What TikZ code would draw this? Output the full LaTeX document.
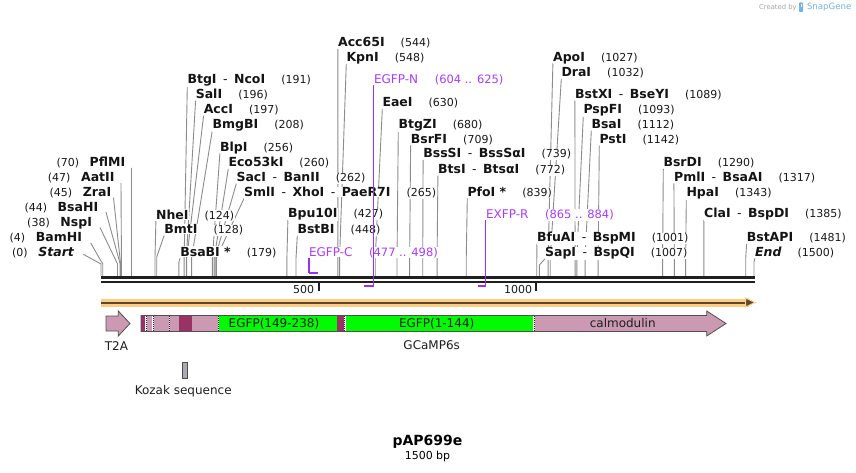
\documentclass[tikz,border=0pt]{standalone}
\usepackage{fontspec}
\setmainfont{DejaVu Sans}
\usetikzlibrary{calc}
\pgfdeclarelayer{bg}
\pgfsetlayers{bg,main}
\definecolor{cutgray}{RGB}{140,140,140}
\definecolor{primerc}{RGB}{155,48,240}
\definecolor{primertext}{RGB}{165,62,245}
\definecolor{featpink}{RGB}{204,153,179}
\definecolor{featdark}{RGB}{153,51,102}
\definecolor{featgreen}{RGB}{0,250,0}
\definecolor{featline}{RGB}{80,80,80}
\definecolor{orangeband}{RGB}{253,205,130}
\definecolor{orangedark}{RGB}{90,72,50}
\definecolor{kozakc}{RGB}{168,172,178}
\definecolor{snapblue}{RGB}{120,175,225}
\newcommand{\enzsep}{{\mdseries\hspace{6.5pt}-\hspace{6.5pt}}}
\tikzset{
  ename/.style={font=\fontsize{12.5}{14}\selectfont\bfseries, text=black!92, inner sep=0.6pt, fill=white},
  enum/.style={font=\fontsize{11}{13}\selectfont, text=black!90, inner sep=0.6pt, fill=white},
  pname/.style={font=\fontsize{12}{14}\selectfont, text=primertext, inner sep=0.6pt, fill=white},
  pnum/.style={font=\fontsize{11.5}{13}\selectfont, text=primertext, inner sep=0.6pt, fill=white},
  cutline/.style={draw=cutgray, line width=0.9pt},
  primerline/.style={draw=primerc, line width=1.1pt},
  flabel/.style={font=\fontsize{12}{14}\selectfont, text=black!88, inner sep=0pt},
}
% right-side label: id, bp, x, center y, name, bend y
\newcommand{\RLab}[6]{%
  \node[ename, anchor=base west] (#1) at (#3, #4+4.6) {#5};
  \node[enum, anchor=base west] (#1-n) at ([xshift=14.5pt]#1.base east) {(#2)};
  \coordinate (#1-b) at ({101+#2*0.43533}, #6);
  \coordinate (#1-s) at ({101+#2*0.43533}, 276);
  \begin{pgfonlayer}{bg}
  \draw[cutline] ([shift={(0.6,2)}]#1.base west) -- (#1-b) -- (#1-s);
  \end{pgfonlayer}
}
% left-side label: id, bp, right x, center y, name, dx, dy
\newcommand{\LLab}[7]{%
  \node[ename, anchor=base east] (#1) at (#3, #4+4.6) {#5};
  \node[enum, anchor=base east] (#1-n) at ([xshift=-9pt]#1.base west) {(#2)};
  \coordinate (#1-b) at ({101+#2*0.43533}, 264);
  \coordinate (#1-s) at ({101+#2*0.43533}, 276);
  \begin{pgfonlayer}{bg}
  \draw[cutline] ([shift={(#6,#7)}]#1.base east) -- (#1-b) -- (#1-s);
  \end{pgfonlayer}
}
\begin{document}
\begin{tikzpicture}[x=1pt,y=-1pt]
\useasboundingbox (0,0) rectangle (856,473);
\begin{pgfonlayer}{bg}
\fill[white] (0,0) rectangle (856,473);
\end{pgfonlayer}

% backbone
\coordinate (bbL) at (101,277.5);
\coordinate (bbR) at (754.5,277.5);
\draw[line width=3pt, black!88] (bbL) -- (bbR);
\draw[line width=2.4pt, black!88] (101,282.2) -- (754.5,282.2);
% ticks
\draw[line width=2pt, black!88] (318.7,283) -- (318.7,290.5);
\draw[line width=2pt, black!88] (536.3,283) -- (536.3,290.5);
\node[enum, fill=none, anchor=east] (t500) at (315,289.3) {500};
\node[enum, fill=none, anchor=east] (t1000) at (533,289.3) {1000};

% left labels
\LLab{pflmi}{70}{126}{162}{PflMI}{5.5}{1.4}
\LLab{aatii}{47}{115.3}{177}{AatII}{5.7}{1.4}
\LLab{zrai}{45}{112}{192}{ZraI}{1.5}{1}
\LLab{bsahi}{44}{99}{207}{BsaHI}{7}{0.5}
\LLab{nspi}{38}{92.7}{221.7}{NspI}{7.3}{1.2}
\LLab{bamhi}{4}{82.7}{237}{BamHI}{8}{1.4}
\LLab{startl}{0}{74.7}{251.7}{\itshape Start}{8.6}{-2}

% right labels
\RLab{btgi}{191}{186.7}{79.3}{BtgI\enzsep NcoI}{258}
\RLab{sali}{196}{195}{94}{SalI}{258}
\RLab{acci}{197}{203}{109}{AccI}{258}
\RLab{bmgbi}{208}{211.7}{124}{BmgBI}{258}
\RLab{blpi}{256}{219.3}{146.7}{BlpI}{258}
\RLab{ecoki}{260}{227.7}{162.3}{Eco53kI}{258}
\RLab{saci}{262}{235.7}{177}{SacI\enzsep BanII}{258}
\RLab{smli}{265}{243.3}{192}{SmlI\enzsep XhoI\enzsep PaeR7I}{258}
\RLab{nhei}{124}{155.3}{214.5}{NheI}{258}
\RLab{bmti}{128}{163.5}{229}{BmtI}{257}
\RLab{bsabi}{179}{179.5}{251.7}{BsaBI *}{262}
\RLab{accsf}{544}{337.3}{42.3}{Acc65I}{258}
\RLab{kpni}{548}{345.7}{56.7}{KpnI}{258}
\RLab{eaei}{630}{381.7}{102.3}{EaeI}{258}
\RLab{btgzi}{680}{397.7}{124}{BtgZI}{258}
\RLab{bsrfi}{709}{410}{138.7}{BsrFI}{258}
\RLab{bsssi}{739}{422.5}{153.3}{BssSI\enzsep BssSαI}{258}
\RLab{btsi}{772}{437.3}{169}{BtsI\enzsep BtsαI}{258}
\RLab{pfoi}{839}{466.7}{191.7}{PfoI *}{258}
\RLab{bputen}{427}{287.3}{213.3}{Bpu10I}{258}
\RLab{bstbi}{448}{296.7}{229}{BstBI}{258}
\RLab{apoi}{1027}{552.3}{56.7}{ApoI}{258}
\RLab{drai}{1032}{560.7}{72.3}{DraI}{258}
\RLab{bstxi}{1089}{574.3}{94}{BstXI\enzsep BseYI}{258}
\RLab{pspfi}{1093}{582.7}{109}{PspFI}{258}
\RLab{bsai}{1112}{590.7}{124}{BsaI}{258}
\RLab{psti}{1142}{598.7}{139}{PstI}{258}
\RLab{bfuai}{1001}{536.3}{237.3}{BfuAI\enzsep BspMI}{262}
\RLab{sapi}{1007}{544.3}{252.3}{SapI\enzsep BspQI}{265}
\RLab{bsrdi}{1290}{662.7}{162.3}{BsrDI}{258}
\RLab{pmli}{1317}{673.3}{176.7}{PmlI\enzsep BsaAI}{258}
\RLab{hpai}{1343}{685.7}{192.3}{HpaI}{258}
\RLab{clai}{1385}{703.3}{213.3}{ClaI\enzsep BspDI}{258}
\RLab{bstapi}{1481}{746}{237.3}{BstAPI}{258}
\RLab{endl}{1500}{754.3}{251.7}{\itshape End}{262}

% primers
\node[pname, anchor=base west] (egfpc) at (308.3,256.2) {EGFP-C};
\node[pnum, anchor=base west] (egfpc-n) at ([xshift=15pt]egfpc.base east) {(477 .. 498)};
\coordinate (egfpc-c) at (309,272.6);
\coordinate (egfpc-e) at (317.8,272.6);
\draw[primerline] ([shift={(0.7,1.5)}]egfpc.base west) -- (egfpc-c);
\draw[primerline, line width=2pt] (egfpc-c) -- (egfpc-e);

\node[pname, anchor=base west] (egfpn) at (373.3,83.6) {EGFP-N};
\node[pnum, anchor=base west] (egfpn-n) at ([xshift=15pt]egfpn.base east) {(604 .. 625)};
\coordinate (egfpn-c) at (373.8,286);
\coordinate (egfpn-e) at (364,286);
\draw[primerline] ([shift={(0.5,1.5)}]egfpn.base west) -- (egfpn-c);
\draw[primerline, line width=2pt] (egfpn-c) -- (egfpn-e);

\node[pname, anchor=base west] (exfpr) at (485.3,218.6) {EXFP-R};
\node[pnum, anchor=base west] (exfpr-n) at ([xshift=15pt]exfpr.base east) {(865 .. 884)};
\coordinate (exfpr-c) at (485.8,286);
\coordinate (exfpr-e) at (477.6,286);
\draw[primerline] ([shift={(0.5,1.5)}]exfpr.base west) -- (exfpr-c);
\draw[primerline, line width=2pt] (exfpr-c) -- (exfpr-e);

% orange ORF arrow
\fill[orangeband] (101,298.5) rectangle (749,306.5);
\draw[orangedark, line width=2pt] (101,302.5) -- (747,302.5);
\filldraw[fill=orangedark, draw=orangeband, line width=1pt] (745.5,298) -- (755,302.5) -- (745.5,307) -- cycle;

% T2A
\filldraw[fill=featpink, draw=featline, line width=0.8pt] (106,316) -- (118.3,316) -- (118.3,311) -- (130,323.5) -- (118.3,336) -- (118.3,331) -- (106,331) -- cycle;
\node[flabel] (t2a) at (116.5,346) {T2A};

% GCaMP6s
\fill[featpink] (141,315.5) -- (706.7,315.5) -- (706.7,311) -- (726,323.5) -- (706.7,336) -- (706.7,331.5) -- (141,331.5) -- cycle;
\fill[featdark] (141,315.5) rectangle (145.3,331.5);
\fill[featdark] (179.3,315.5) rectangle (191.7,331.5);
\fill[featgreen] (219.3,315.5) rectangle (336.7,331.5);
\fill[featdark] (336.7,315.5) rectangle (344,331.5);
\fill[featgreen] (345.7,315.5) rectangle (532.7,331.5);
\foreach \sx in {146,153.2,169.5,218.5,344.9,534} {
  \draw[white, line width=1.8pt] (\sx,315.5) -- (\sx,331.5);
  \draw[black!85, line width=0.9pt, dash pattern=on 1pt off 1pt] (\sx,315.5) -- (\sx,331.5);
}
\draw[featline, line width=0.8pt] (141,315.5) -- (706.7,315.5) -- (706.7,311) -- (726,323.5) -- (706.7,336) -- (706.7,331.5) -- (141,331.5) -- cycle;
\node[flabel] (egfpa) at (274,323.5) {EGFP(149-238)};
\node[flabel] (egfpb) at (436.7,323.5) {EGFP(1-144)};
\node[flabel] (calm) at (622.7,323.5) {calmodulin};
\node[flabel] (gcamp) at (431.7,345) {GCaMP6s};

% Kozak
\filldraw[fill=kozakc, draw=black!70, line width=0.6pt] (182.3,362.3) rectangle (187,378.3);
\node[flabel] (kozak) at (183.2,391) {Kozak sequence};

% title
\node[font=\fontsize{14}{16}\selectfont\bfseries, inner sep=0pt] (title) at (427.5,442) {pAP699e};
\node[font=\fontsize{11}{13}\selectfont, inner sep=0pt] (size) at (427.5,456.5) {1500 bp};

% watermark
\node[font=\fontsize{6.8}{8}\selectfont, text=black!35, inner sep=0pt, anchor=west] (cb) at (759,7.3) {Created by};
\fill[snapblue, rounded corners=0.8pt] (799,2.5) rectangle (803,12);
\fill[white] (800.5,4) rectangle (802,7);
\node[font=\fontsize{8.6}{10}\selectfont, text=snapblue, inner sep=0pt, anchor=west] (sg) at (806.8,7.3) {SnapGene};
\end{tikzpicture}
\end{document}
